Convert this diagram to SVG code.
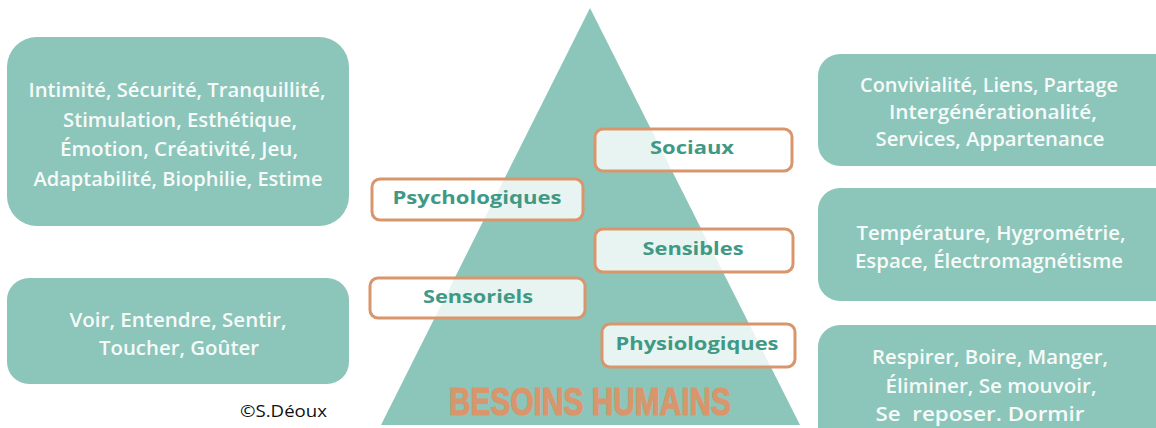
<svg xmlns="http://www.w3.org/2000/svg" width="1156" height="428" viewBox="0 0 1156 428">
<style>
.box{fill:#8cc5b9}
.bt{font-family:"Open Sans","Liberation Sans",sans-serif;font-weight:600;font-size:19px;fill:#f6fbfa;text-anchor:middle}
.lbl{fill:#ffffff;fill-opacity:0.8;stroke:#d9956b;stroke-width:3}
.lt{font-family:"Open Sans","Liberation Sans",sans-serif;font-weight:bold;font-size:18px;fill:#3f9985;text-anchor:middle}
.title{font-family:"Liberation Sans Narrow","Liberation Sans",sans-serif;font-weight:bold;font-size:38px;fill:#d9956b;stroke:#d9956b;stroke-width:1.2;text-anchor:middle}
</style>
<rect width="1156" height="428" fill="#ffffff"/>
<g id="pyramid">
<polygon points="590,8 381,425 800,425" fill="#8cc5b9"/>
<text class="title" x="590" y="415" textLength="282" lengthAdjust="spacingAndGlyphs">BESOINS HUMAINS</text>
</g>
<g id="left-psych">
<rect class="box" x="7" y="37" width="342" height="189" rx="30"/>
<text class="bt" x="177" y="97" textLength="297" lengthAdjust="spacingAndGlyphs">Intimité, Sécurité, Tranquillité,</text>
<text class="bt" x="180" y="127" textLength="234" lengthAdjust="spacingAndGlyphs">Stimulation, Esthétique,</text>
<text class="bt" x="179" y="156" textLength="238" lengthAdjust="spacingAndGlyphs">Émotion, Créativité, Jeu,</text>
<text class="bt" x="178" y="186" textLength="289" lengthAdjust="spacingAndGlyphs">Adaptabilité, Biophilie, Estime</text>
</g>
<g id="left-sens">
<rect class="box" x="7" y="278" width="342" height="106" rx="22"/>
<text class="bt" x="178" y="327" textLength="217" lengthAdjust="spacingAndGlyphs">Voir, Entendre, Sentir,</text>
<text class="bt" x="179" y="355" textLength="160" lengthAdjust="spacingAndGlyphs">Toucher, Goûter</text>
</g>
<text x="240" y="417" font-family="'Open Sans','Liberation Sans',sans-serif" font-size="17" fill="#111111" textLength="87" lengthAdjust="spacingAndGlyphs">©S.Déoux</text>
<g id="right-sociaux">
<rect class="box" x="818" y="54" width="360" height="112" rx="22"/>
<text class="bt" x="989" y="92" textLength="258" lengthAdjust="spacingAndGlyphs">Convivialité, Liens, Partage</text>
<text class="bt" x="993" y="119" textLength="208" lengthAdjust="spacingAndGlyphs">Intergénérationalité,</text>
<text class="bt" x="990" y="146" textLength="229" lengthAdjust="spacingAndGlyphs">Services, Appartenance</text>
</g>
<g id="right-sensibles">
<rect class="box" x="818" y="188" width="360" height="113" rx="22"/>
<text class="bt" x="991" y="240" textLength="269" lengthAdjust="spacingAndGlyphs">Température, Hygrométrie,</text>
<text class="bt" x="989" y="268" textLength="268" lengthAdjust="spacingAndGlyphs">Espace, Électromagnétisme</text>
</g>
<g id="right-physio">
<rect class="box" x="818" y="325" width="360" height="130" rx="22"/>
<text class="bt" x="990" y="364" textLength="236" lengthAdjust="spacingAndGlyphs">Respirer, Boire, Manger,</text>
<text class="bt" x="991" y="393" textLength="211" lengthAdjust="spacingAndGlyphs">Éliminer, Se mouvoir,</text>
<text class="bt" x="980" y="421" textLength="209" lengthAdjust="spacingAndGlyphs" xml:space="preserve">Se  reposer. Dormir</text>
</g>
<g id="label-sociaux">
<rect class="lbl" x="595" y="129" width="197" height="42" rx="8"/>
<text class="lt" x="692" y="154" textLength="84" lengthAdjust="spacingAndGlyphs">Sociaux</text>
</g>
<g id="label-psychologiques">
<rect class="lbl" x="372" y="179" width="211" height="41" rx="8"/>
<text class="lt" x="477" y="204" textLength="169" lengthAdjust="spacingAndGlyphs">Psychologiques</text>
</g>
<g id="label-sensibles">
<rect class="lbl" x="595" y="229" width="198" height="43" rx="8"/>
<text class="lt" x="693" y="255" textLength="101" lengthAdjust="spacingAndGlyphs">Sensibles</text>
</g>
<g id="label-sensoriels">
<rect class="lbl" x="370" y="278" width="215" height="40" rx="8"/>
<text class="lt" x="478" y="303" textLength="110" lengthAdjust="spacingAndGlyphs">Sensoriels</text>
</g>
<g id="label-physiologiques">
<rect class="lbl" x="602" y="324" width="193" height="43" rx="8"/>
<text class="lt" x="697" y="350" textLength="163" lengthAdjust="spacingAndGlyphs">Physiologiques</text>
</g>
<g id="connectors"></g>
</svg>
